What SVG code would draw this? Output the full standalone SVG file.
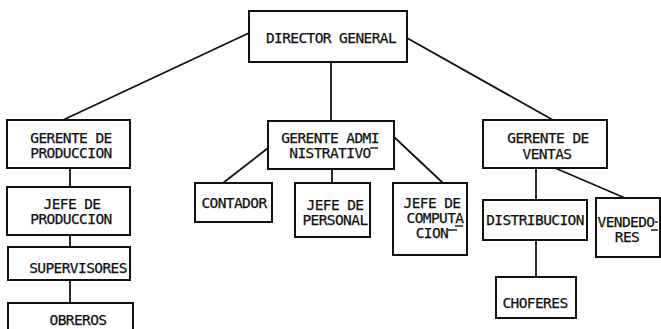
<svg xmlns="http://www.w3.org/2000/svg" width="661" height="329" viewBox="0 0 661 329">
<style>
rect{fill:#fff;stroke:#111;stroke-width:2}
line,.c path{stroke:#111;stroke-width:1.8;fill:none}
text{font-family:"DejaVu Sans Mono","Liberation Mono",monospace;font-size:14.5px;letter-spacing:-0.6px;fill:#111;stroke:#111;stroke-width:0.25;text-anchor:middle}
.m{stroke:#111;stroke-width:1.4}
</style>
<rect x="0" y="0" width="661" height="329" style="stroke:none;fill:#fff"/>
<g id="connectors" class="c">
<line x1="249" y1="33" x2="63" y2="120"/>
<line x1="407" y1="38" x2="553" y2="120"/>
<line x1="331" y1="62" x2="331" y2="121"/>
<line x1="70" y1="168" x2="70" y2="187"/>
<line x1="70" y1="235" x2="70" y2="247"/>
<line x1="70" y1="280" x2="70" y2="303"/>
<line x1="268" y1="148" x2="223" y2="183"/>
<line x1="332" y1="169" x2="332" y2="183"/>
<line x1="394" y1="137" x2="443" y2="183"/>
<line x1="536" y1="168" x2="536" y2="200"/>
<line x1="536" y1="240" x2="536" y2="277"/>
<line x1="555" y1="168" x2="625" y2="198"/>
</g>
<g id="director"><rect x="249" y="11" width="158" height="51"/><text x="331" y="43">DIRECTOR GENERAL</text></g>
<g id="gerente-produccion"><rect x="7" y="120" width="123" height="48"/><text x="71" y="143">GERENTE DE</text><text x="71" y="158">PRODUCCION</text></g>
<g id="jefe-produccion"><rect x="7" y="187" width="123" height="48"/><text x="72" y="209">JEFE DE</text><text x="71" y="224">PRODUCCION</text></g>
<g id="supervisores"><rect x="8" y="247" width="122" height="33"/><text x="78" y="273">SUPERVISORES</text></g>
<g id="obreros"><rect x="8" y="303" width="125" height="40"/><text x="78" y="325">OBREROS</text></g>
<g id="gerente-admin"><rect x="268" y="121" width="126" height="48"/><text x="330" y="143">GERENTE ADMI</text><text x="330" y="158">NISTRATIVO</text><line class="m" x1="370" y1="148" x2="378" y2="148"/></g>
<g id="contador"><rect x="195" y="183" width="77" height="39"/><text x="234" y="208">CONTADOR</text></g>
<g id="jefe-personal"><rect x="295" y="183" width="75" height="54"/><text x="335" y="210">JEFE DE</text><text x="335" y="225">PERSONAL</text></g>
<g id="jefe-computacion"><rect x="393" y="183" width="74" height="72"/><text x="432" y="208">JEFE DE</text><text x="435" y="223">COMPUTA</text><line class="m" x1="455" y1="226" x2="463" y2="226"/><text x="432" y="238">CION</text><line class="m" x1="448" y1="230" x2="457" y2="230"/></g>
<g id="gerente-ventas"><rect x="483" y="120" width="124" height="48"/><text x="548" y="143">GERENTE DE</text><text x="547" y="159">VENTAS</text></g>
<g id="distribucion"><rect x="483" y="200" width="104" height="40"/><text x="535" y="225">DISTRIBUCION</text></g>
<g id="vendedores"><rect x="596" y="198" width="64" height="59"/><text x="626" y="227">VENDEDO</text><line class="m" x1="655" y1="222" x2="658" y2="222"/><text x="627" y="242">RES</text><line class="m" x1="651" y1="230" x2="658" y2="230"/></g>
<g id="choferes"><rect x="496" y="277" width="80" height="41"/><text x="535" y="308">CHOFERES</text></g>
</svg>
